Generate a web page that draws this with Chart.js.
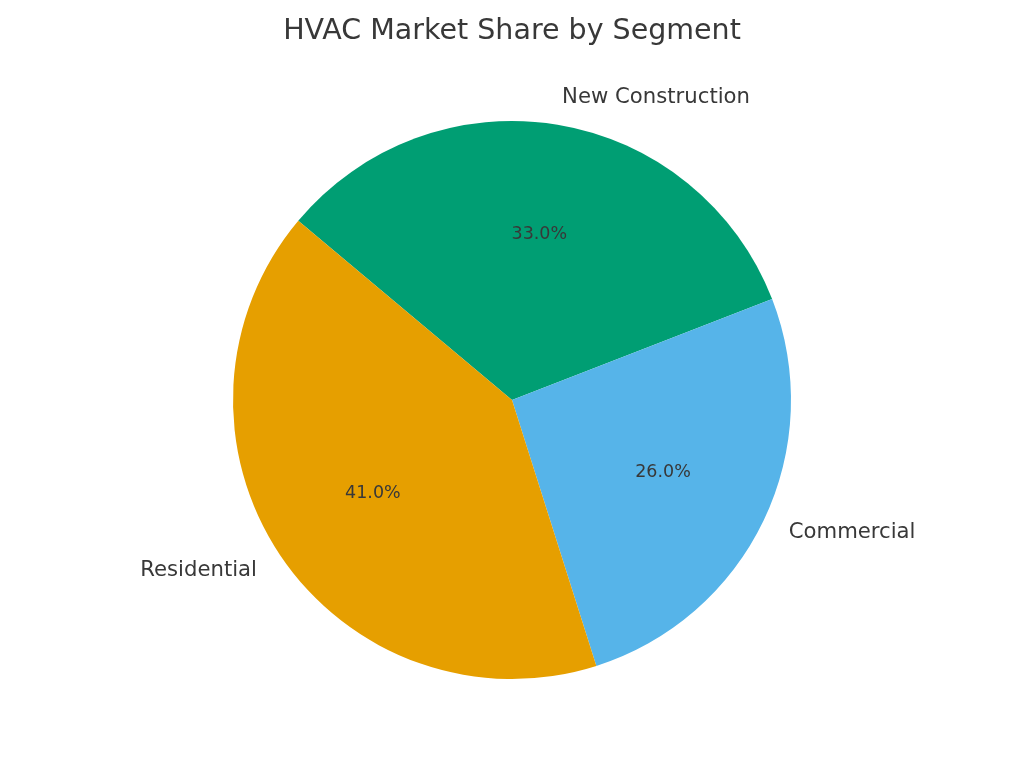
<!DOCTYPE html>
<html>
<head>
<meta charset="utf-8">
<script src="https://cdn.jsdelivr.net/npm/chart.js@4/dist/chart.umd.min.js"></script>
<style>
  html, body { margin: 0; padding: 0; background: #ffffff; }
  #wrap { width: 1024px; height: 768px; position: relative; }
</style>
</head>
<body>
<div id="wrap"><canvas id="c" width="1024" height="768"></canvas></div>
<script>
// Data (listed clockwise, starting at matplotlib's 140° start angle)
const chartTitle = "HVAC Market Share by Segment";
const categories = ["New Construction", "Commercial", "Residential"];
const shares = [33.0, 26.0, 41.0];
const sliceColors = ["#009E73", "#56B4E9", "#E69F00"];

const TEXT = "#383838";
const FONT = "'DejaVu Sans', sans-serif";

const labelPlugin = {
  id: 'pieLabels',
  afterDatasetsDraw(chart) {
    const ctx = chart.ctx;
    const meta = chart.getDatasetMeta(0);
    ctx.save();
    ctx.fillStyle = TEXT;
    meta.data.forEach((arc, i) => {
      const p = arc.getProps(['x', 'y', 'startAngle', 'endAngle', 'outerRadius'], true);
      const mid = (p.startAngle + p.endAngle) / 2;
      const cx = Math.cos(mid), cy = Math.sin(mid);
      // percentage at 0.6 r
      ctx.font = "17.5px " + FONT;
      ctx.textAlign = 'center';
      ctx.textBaseline = 'middle';
      ctx.fillText(shares[i].toFixed(1) + '%', p.x + 0.6 * p.outerRadius * cx, p.y + 0.6 * p.outerRadius * cy);
      // category label at 1.1 r
      ctx.font = "21.2px " + FONT;
      ctx.textAlign = cx >= 0 ? 'left' : 'right';
      ctx.fillText(categories[i], p.x + 1.1 * p.outerRadius * cx, p.y + 1.1 * p.outerRadius * cy);
    });
    // title
    ctx.font = "28.5px " + FONT;
    ctx.textAlign = 'center';
    ctx.textBaseline = 'middle';
    ctx.fillText(chartTitle, chart.width / 2, 32);
    ctx.restore();
  }
};

new Chart(document.getElementById('c'), {
  type: 'pie',
  data: {
    labels: categories,
    datasets: [{
      data: shares,
      backgroundColor: sliceColors,
      borderWidth: 0
    }]
  },
  options: {
    responsive: false,
    animation: false,
    devicePixelRatio: 1,
    rotation: -50,
    layout: { padding: { top: 121, bottom: 89, left: 0, right: 0 } },
    plugins: {
      legend: { display: false },
      title: { display: false },
      tooltip: { enabled: false }
    }
  },
  plugins: [labelPlugin]
});
</script>
</body>
</html>
